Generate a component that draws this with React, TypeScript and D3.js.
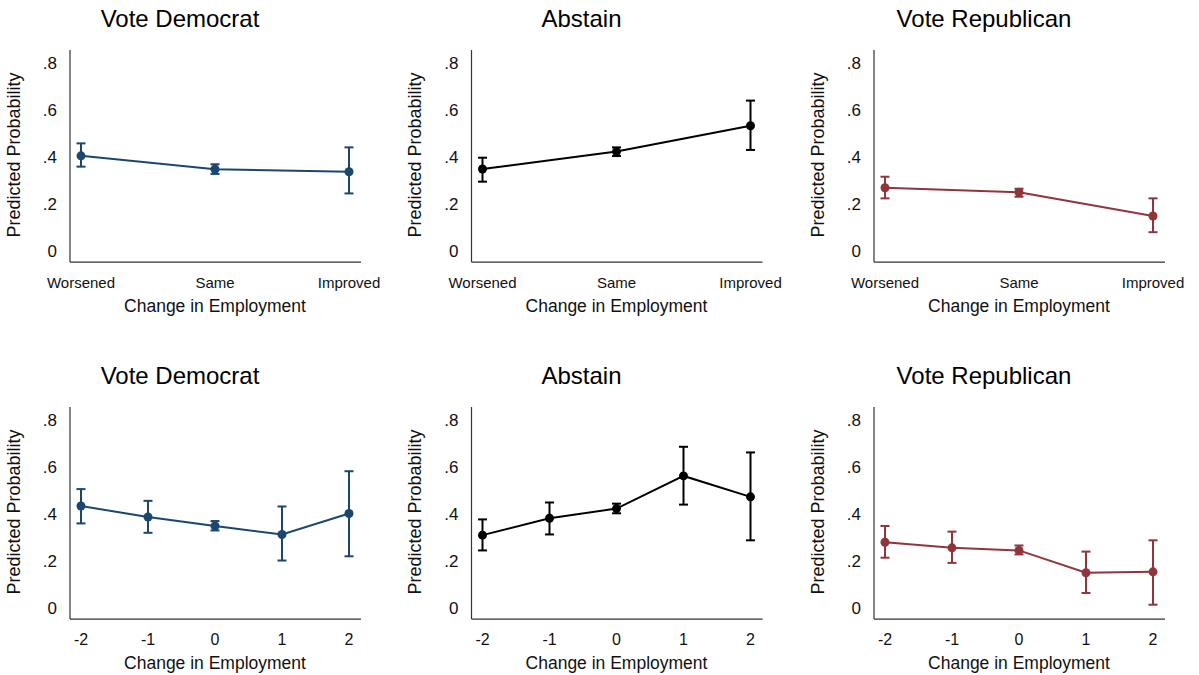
import * as d3 from 'd3';

const catLabels = ['Worsened', 'Same', 'Improved'];
const numLabels = ['-2', '-1', '0', '1', '2'];
const panelTitles = ['Vote Democrat', 'Abstain', 'Vote Republican'];
const yTicks = [0, 0.2, 0.4, 0.6, 0.8];
const colors = ['#1a476f', '#000000', '#90353b'];

// top row: categorical change in employment
const demCat = [0.405, 0.348, 0.337];
const demCatLo = [0.359, 0.328, 0.245];
const demCatHi = [0.458, 0.369, 0.441];
const absCat = [0.349, 0.423, 0.533];
const absCatLo = [0.295, 0.404, 0.43];
const absCatHi = [0.397, 0.441, 0.64];
const repCat = [0.269, 0.25, 0.149];
const repCatLo = [0.224, 0.231, 0.08];
const repCatHi = [0.316, 0.265, 0.224];

// bottom row: numeric change in employment
const demNum = [0.434, 0.387, 0.349, 0.313, 0.402];
const demNumLo = [0.36, 0.32, 0.33, 0.202, 0.22];
const demNumHi = [0.506, 0.456, 0.37, 0.432, 0.582];
const absNum = [0.31, 0.382, 0.423, 0.562, 0.473];
const absNumLo = [0.245, 0.313, 0.403, 0.44, 0.288];
const absNumHi = [0.377, 0.449, 0.444, 0.686, 0.662];
const repNum = [0.28, 0.256, 0.245, 0.15, 0.154];
const repNumLo = [0.214, 0.192, 0.228, 0.064, 0.014];
const repNumHi = [0.349, 0.325, 0.266, 0.24, 0.288];

const rows = [
  { labels: catLabels, series: [[demCat, demCatLo, demCatHi], [absCat, absCatLo, absCatHi], [repCat, repCatLo, repCatHi]] },
  { labels: numLabels, series: [[demNum, demNumLo, demNumHi], [absNum, absNumLo, absNumHi], [repNum, repNumLo, repNumHi]] },
];

const axisX = [70, 471.5, 874];
const rowOff = [0, 357];
const font = 'Arial, "Liberation Sans", sans-serif';

function Panel({ ax, off, title, labels, vals, lo, hi, color }) {
  const x = d3.scalePoint<string>().domain(labels).range([ax + 11, ax + 279]);
  const y = d3.scaleLinear().domain([0, 0.8]).range([251 + off, 63 + off]);
  const line = d3.line<number>()
    .x((d, i) => x(labels[i]))
    .y(d => y(d));
  const fmt = (v: number) => (v === 0 ? '0' : d3.format('.1f')(v).replace(/^0/, ''));

  return (
    <g fontFamily={font}>
      <text x={ax + 110} y={26.5 + off} textAnchor="middle" fontSize={24} fill="#000">{title}</text>
      <line x1={ax} x2={ax} y1={y(0.855)} y2={y(-0.047)} stroke="#333" strokeWidth={1.2} />
      <line x1={ax} x2={ax + 291} y1={y(-0.047)} y2={y(-0.047)} stroke="#333" strokeWidth={1.2} />
      {yTicks.map(t => (
        <text key={t} x={ax - 13} y={y(t) + 6} textAnchor="end" fontSize={17} fill="#111">{fmt(t)}</text>
      ))}
      {labels.map(l => (
        <text key={l} x={x(l)} y={288 + off} textAnchor="middle" fontSize={labels.length > 3 ? 16 : 15} fill="#111">{l}</text>
      ))}
      <text x={ax + 145} y={312 + off} textAnchor="middle" fontSize={17.5} fill="#111">Change in Employment</text>
      <text transform={`translate(${ax - 55},${155 + off}) rotate(-90)`} textAnchor="middle" dominantBaseline="middle" fontSize={18} fill="#111">Predicted Probability</text>
      <path d={line(vals)} fill="none" stroke={color} strokeWidth={2} />
      {vals.map((v, i) => {
        const cx = x(labels[i]);
        return (
          <g key={i} stroke={color} strokeWidth={2}>
            <line x1={cx} x2={cx} y1={y(lo[i])} y2={y(hi[i])} />
            <line x1={cx - 4.5} x2={cx + 4.5} y1={y(lo[i])} y2={y(lo[i])} />
            <line x1={cx - 4.5} x2={cx + 4.5} y1={y(hi[i])} y2={y(hi[i])} />
            <circle cx={cx} cy={y(v)} r={4.5} fill={color} stroke="none" />
          </g>
        );
      })}
    </g>
  );
}

export default function App() {
  return (
    <svg width={1199} height={675} style={{ position: 'absolute', left: 0, top: 0, background: '#fff' }}>
      {rows.map((row, r) =>
        row.series.map((s, c) => (
          <Panel
            key={`${r}-${c}`}
            ax={axisX[c]}
            off={rowOff[r]}
            title={panelTitles[c]}
            labels={row.labels}
            vals={s[0]}
            lo={s[1]}
            hi={s[2]}
            color={colors[c]}
          />
        ))
      )}
    </svg>
  );
}
